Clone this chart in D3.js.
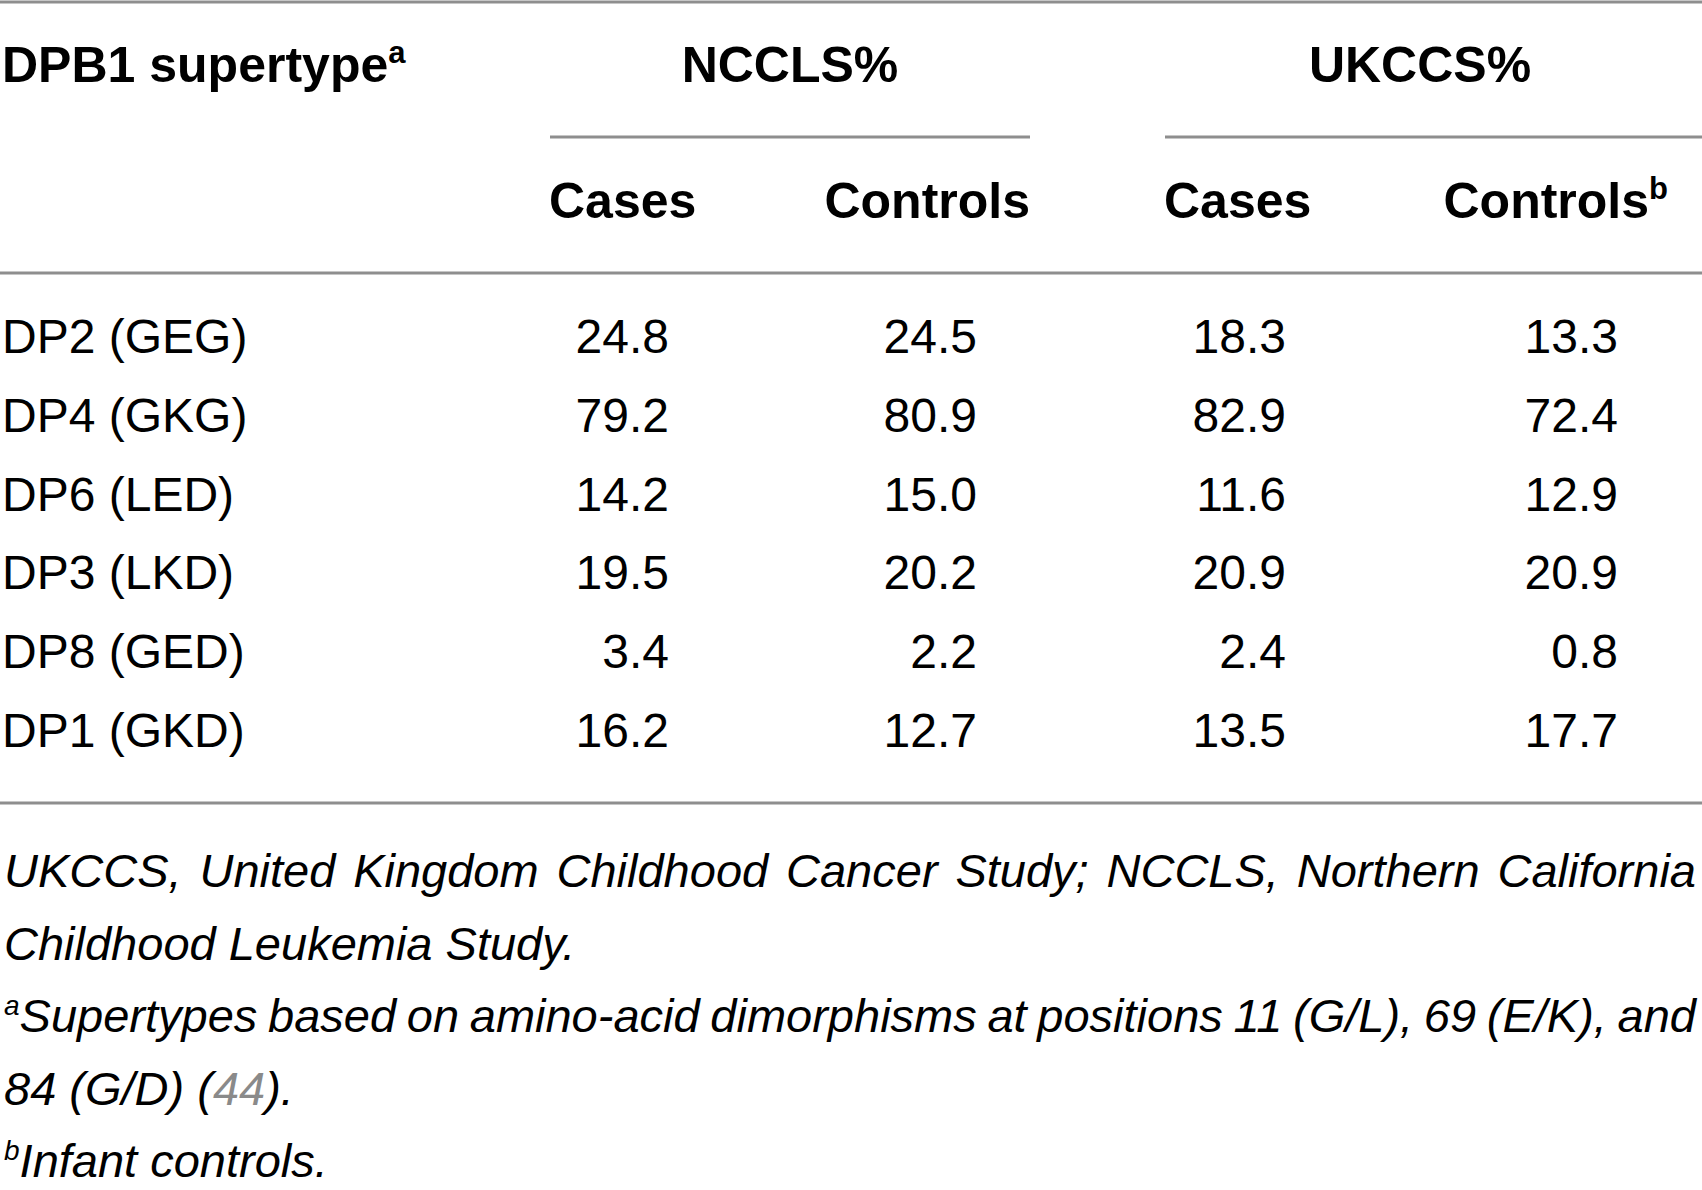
<!DOCTYPE html>
<html lang="en">
<head>
  <meta charset="UTF-8">
  <title>DPB1 supertype frequencies</title>
  <script src="https://d3js.org/d3.v7.min.js"></script>
  <style>
    body {
      margin: 0;
      padding: 0;
      background: #fff;
      overflow: hidden;
    }
    text {
      font-family: "Liberation Sans", Arial, Helvetica, sans-serif;
      fill: #000;
    }
    .head { font-weight: bold; font-size: 50px; }
    .cell { font-size: 48px; }
    .note { font-size: 47px; font-style: italic; }
  </style>
</head>
<body>
  <div id="chart"></div>

  <script>
    // table content
    const supertypes = ["DP2 (GEG)", "DP4 (GKG)", "DP6 (LED)", "DP3 (LKD)", "DP8 (GED)", "DP1 (GKD)"];
    const columns = ["ncclsCases", "ncclsControls", "ukccsCases", "ukccsControls"];
    const ncclsCases    = [24.8, 79.2, 14.2, 19.5, 3.4, 16.2];
    const ncclsControls = [24.5, 80.9, 15.0, 20.2, 2.2, 12.7];
    const ukccsCases    = [18.3, 82.9, 11.6, 20.9, 2.4, 13.5];
    const ukccsControls = [13.3, 72.4, 12.9, 20.9, 0.8, 17.7];
    const groupHeads = ["NCCLS%", "UKCCS%"];
    const subHeads = ["Cases", "Controls", "Cases", "Controls"];
    const footnotes = [
      { sup: "", text: "UKCCS, United Kingdom Childhood Cancer Study; NCCLS, Northern California", justify: true },
      { sup: "", text: "Childhood Leukemia Study.", justify: false },
      { sup: "a", text: "Supertypes based on amino-acid dimorphisms at positions 11 (G/L), 69 (E/K), and", justify: true },
      { sup: "", text: "84 (G/D) (", ref: "44", after: ").", justify: false },
      { sup: "b", text: "Infant controls.", justify: false }
    ];

    const width = 1702;
    const height = 1190;
    const ruleColor = "#8e8e8e";

    const svg = d3.select("#chart")
                  .append("svg")
                  .attr("width", width)
                  .attr("height", height);

    const rows = supertypes.map((s, i) => ({
      label: s,
      ncclsCases: ncclsCases[i],
      ncclsControls: ncclsControls[i],
      ukccsCases: ukccsCases[i],
      ukccsControls: ukccsControls[i]
    }));

    // row baselines and column right edges
    const y = d3.scalePoint().domain(supertypes).range([353, 747]);
    const colRight = d3.scaleOrdinal().domain(columns).range([669, 977, 1286, 1618]);

    // rules
    const rules = [
      { x1: 0, x2: width, y: 2 },
      { x1: 550, x2: 1030, y: 137 },
      { x1: 1165, x2: width, y: 137 },
      { x1: 0, x2: width, y: 273 },
      { x1: 0, x2: width, y: 803 }
    ];
    svg.selectAll(".rule")
       .data(rules)
       .enter()
       .append("line")
       .attr("class", "rule")
       .attr("x1", d => d.x1)
       .attr("x2", d => d.x2)
       .attr("y1", d => d.y)
       .attr("y2", d => d.y)
       .attr("stroke", ruleColor)
       .attr("stroke-width", 3);

    // header
    const h1 = svg.append("text")
       .attr("class", "head")
       .attr("x", 2)
       .attr("y", 82)
       .text("DPB1 supertype");
    h1.append("tspan")
       .attr("font-size", 31)
       .attr("dy", -19)
       .text("a");

    svg.selectAll(".group-head")
       .data(groupHeads)
       .enter()
       .append("text")
       .attr("class", "head group-head")
       .attr("x", (d, i) => [790, 1420][i])
       .attr("y", 82)
       .attr("text-anchor", "middle")
       .text(d => d);

    const subPos = [
      { x: 549, anchor: "start" },
      { x: 1030, anchor: "end" },
      { x: 1164, anchor: "start" },
      { x: 1668, anchor: "end" }
    ];
    svg.selectAll(".sub-head")
       .data(subHeads)
       .enter()
       .append("text")
       .attr("class", "head sub-head")
       .attr("x", (d, i) => subPos[i].x)
       .attr("y", 218)
       .attr("text-anchor", (d, i) => subPos[i].anchor)
       .each(function(d, i) {
         const t = d3.select(this);
         t.append("tspan").text(d);
         if (i === 3) {
           t.append("tspan").attr("font-size", 31).attr("dy", -19).text("b");
         }
       });

    // body
    const rowG = svg.selectAll(".row")
       .data(rows)
       .enter()
       .append("g")
       .attr("class", "row")
       .attr("transform", d => `translate(0,${y(d.label)})`);

    rowG.append("text")
        .attr("class", "cell")
        .attr("x", 2)
        .text(d => d.label);

    rowG.selectAll(".num")
        .data(d => columns.map(c => ({ col: c, value: d[c] })))
        .enter()
        .append("text")
        .attr("class", "cell num")
        .attr("x", d => colRight(d.col))
        .attr("text-anchor", "end")
        .text(d => d.value.toFixed(1));

    // footnotes
    const noteY = d3.scalePoint().domain(d3.range(footnotes.length)).range([887, 1177]);
    footnotes.forEach((f, i) => {
      const t = svg.append("text")
         .attr("class", "note")
         .attr("x", 4)
         .attr("y", noteY(i));
      if (f.sup) {
        t.append("tspan").attr("font-size", 28).attr("dy", -17).text(f.sup);
        t.append("tspan").attr("dy", 17).text(f.text);
      } else {
        t.append("tspan").text(f.text);
      }
      if (f.ref) {
        t.append("tspan").attr("fill", "#8a8a8a").text(f.ref);
        t.append("tspan").text(f.after);
      }
      if (f.justify) {
        // stretch or squeeze the word gaps so the line fills the width
        const natural = t.node().getComputedTextLength();
        const gaps = (f.text.match(/ /g) || []).length;
        const extra = (width - 10 - natural) / gaps;
        t.style("word-spacing", `${extra}px`);
      }
    });
  </script>
</body>
</html>
